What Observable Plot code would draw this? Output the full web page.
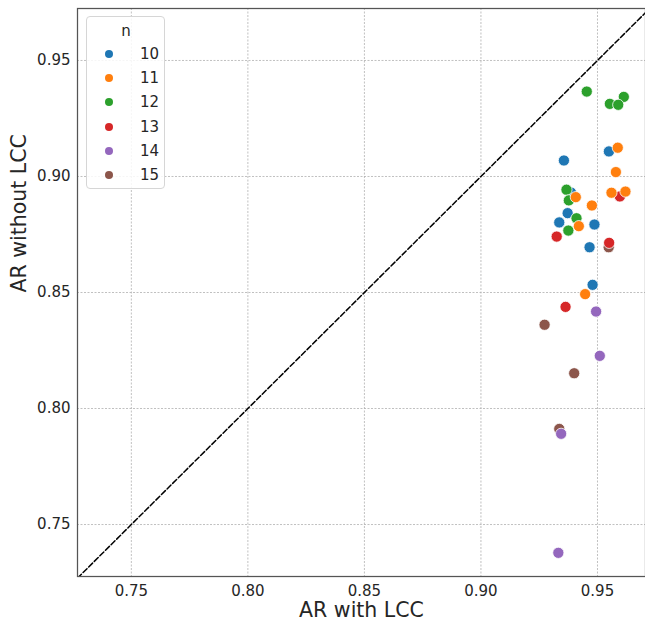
<!DOCTYPE html>
<html>
<head>
<meta charset="utf-8">
<script src="https://cdn.jsdelivr.net/npm/d3@7"></script>
<script src="https://cdn.jsdelivr.net/npm/@observablehq/plot@0.6"></script>
<style>
  html, body { margin: 0; padding: 0; background: #fff; }
  #wrap { position: relative; width: 645px; height: 623px; font-family: "DejaVu Sans", sans-serif; }
  #legend { position: absolute; left: 86px; top: 16px; width: 79px; height: 173px;
    border: 1px solid #d6d6d6; border-radius: 4px; background: rgba(255,255,255,0.85); box-sizing: border-box; }
  #legend .title { position: absolute; left: 0; width: 78px; top: 5px; text-align: center; font-size: 15px; color: #262626; }
  #legend .row { position: absolute; left: 0; width: 78px; height: 20px; }
  #legend .dot { position: absolute; left: 18px; top: 6px; width: 8px; height: 8px; border-radius: 50%; }
  #legend .lab { position: absolute; left: 53px; top: 0; font-size: 15px; color: #262626; line-height: 20px; }
</style>
</head>
<body>
<div id="wrap"></div>
<script>
// categories and colours
const groups = ["10", "11", "12", "13", "14", "15"];
const palette = ["#1f77b4", "#ff7f0e", "#2ca02c", "#d62728", "#9467bd", "#8c564b"];

// series values: AR with LCC (x) and AR without LCC (y), per n
const x10 = [0.9356, 0.9549, 0.9336, 0.9372, 0.9487, 0.9466, 0.9479, 0.9386];
const y10 = [0.9069, 0.9108, 0.8802, 0.8842, 0.8793, 0.8695, 0.8533, 0.8931];
const x11 = [0.9587, 0.9579, 0.9407, 0.9560, 0.9620, 0.9476, 0.9420, 0.9447];
const y11 = [0.9124, 0.9019, 0.8911, 0.8930, 0.8935, 0.8875, 0.8786, 0.8493];
const x12 = [0.9454, 0.9613, 0.9553, 0.9589, 0.9367, 0.9377, 0.9410, 0.9375];
const y12 = [0.9366, 0.9343, 0.9313, 0.9309, 0.8943, 0.8897, 0.8820, 0.8767];
const x13 = [0.9596, 0.9325, 0.9550, 0.9363];
const y13 = [0.8914, 0.8741, 0.8714, 0.8438];
const x14 = [0.9494, 0.9510, 0.9344, 0.9332];
const y14 = [0.8418, 0.8227, 0.7891, 0.7378];
const x15 = [0.9548, 0.9273, 0.9400, 0.9336];
const y15 = [0.8695, 0.8361, 0.8152, 0.7912];

// axes
const xDomain = [0.7269, 0.9706];
const yDomain = [0.7276, 0.9724];
const tickValues = [0.75, 0.80, 0.85, 0.90, 0.95];
const xTitle = "AR with LCC";
const yTitle = "AR without LCC";
const legendTitle = "n";

const seriesX = {"10": x10, "11": x11, "12": x12, "13": x13, "14": x14, "15": x15};
const seriesY = {"10": y10, "11": y11, "12": y12, "13": y13, "14": y14, "15": y15};
const drawOrder = ["15", "13", "10", "12", "11", "14"];
const data = [];
for (const g of drawOrder) {
  seriesX[g].forEach((v, i) => data.push({n: g, x: v, y: seriesY[g][i]}));
}
const diag = [Math.min(xDomain[0], yDomain[0]), Math.max(xDomain[1], yDomain[1])];

const chart = Plot.plot({
  width: 645,
  height: 623,
  marginLeft: 77,
  marginRight: 0,
  marginTop: 8,
  marginBottom: 47,
  style: {fontFamily: "DejaVu Sans, sans-serif", background: "white", color: "#262626", overflow: "visible"},
  x: {domain: xDomain},
  y: {domain: yDomain},
  color: {domain: groups, range: palette},
  marks: [
    Plot.gridX(tickValues, {stroke: "#b0b0b0", strokeOpacity: 1, strokeWidth: 0.8, strokeDasharray: "2,1.5"}),
    Plot.gridY(tickValues, {stroke: "#b0b0b0", strokeOpacity: 1, strokeWidth: 0.8, strokeDasharray: "2,1.5"}),
    Plot.line(diag, {x: d => d, y: d => d, stroke: "black", strokeWidth: 1.5, strokeDasharray: "5.5,2.4", clip: true}),
    Plot.dot(data, {x: "x", y: "y", fill: d => d.n, r: 5.6, stroke: "white", strokeWidth: 0.8}),
    Plot.frame({stroke: "#555", strokeWidth: 1.25}),
    Plot.axisX(tickValues, {tickSize: 0, tickPadding: 9, fontSize: 15, tickFormat: d3.format(".2f"), label: null}),
    Plot.axisY(tickValues, {tickSize: 0, tickPadding: 7, fontSize: 15, tickFormat: d3.format(".2f"), label: null}),
    Plot.text([xTitle], {frameAnchor: "bottom", dy: 40, fontSize: 20.5, fill: "#262626"}),
    Plot.text([yTitle], {frameAnchor: "left", dx: -58, rotate: -90, fontSize: 20.5, fill: "#262626"})
  ]
});

const wrap = document.getElementById("wrap");
wrap.appendChild(chart);

// legend (HTML overlay)
const legend = document.createElement("div");
legend.id = "legend";
const t = document.createElement("div");
t.className = "title";
t.textContent = legendTitle;
legend.appendChild(t);
groups.forEach((g, i) => {
  const row = document.createElement("div");
  row.className = "row";
  row.style.top = (27 + i * 24.2) + "px";
  const dot = document.createElement("div");
  dot.className = "dot";
  dot.style.background = palette[i];
  const lab = document.createElement("div");
  lab.className = "lab";
  lab.textContent = g;
  row.appendChild(dot);
  row.appendChild(lab);
  legend.appendChild(row);
});
wrap.appendChild(legend);
</script>
</body>
</html>
